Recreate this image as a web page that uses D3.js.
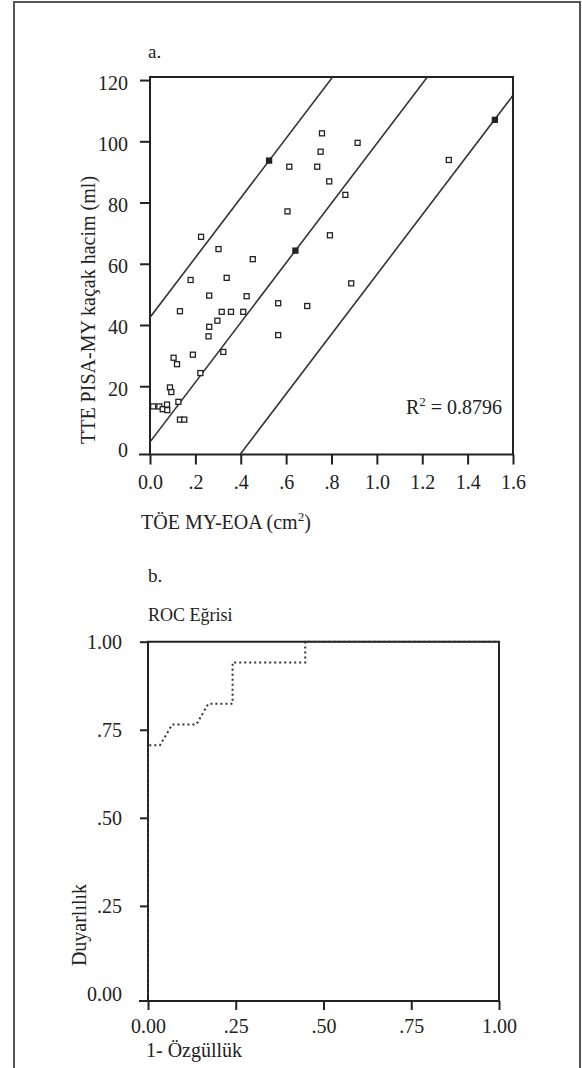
<!DOCTYPE html>
<html>
<head>
<meta charset="utf-8">
<script src="https://cdn.jsdelivr.net/npm/d3@7"></script>
<style>
body { margin: 0; background: #fff; }
</style>
</head>
<body>
<div id="chart"></div>
<script>
// panel a: EOA (cm2) vs PISA regurgitant volume (ml)
const eoa = [0.525, 0.614, 0.606, 0.225, 0.302, 0.641, 0.453, 0.179, 0.338, 0.261,
    0.426, 0.565, 0.693, 0.132, 0.316, 0.357, 0.411, 0.297, 0.261, 0.258,
    0.565, 0.323, 0.189, 0.104, 0.119, 0.222, 0.088, 0.094, 0.125, 0.014,
    0.041, 0.056, 0.075, 0.076, 0.132, 0.151, 0.758, 0.915, 0.752, 0.737,
    0.790, 0.861, 0.793, 0.887, 1.520, 1.317];
const volume = [93.7, 91.7, 77.1, 68.8, 64.8, 64.3, 61.5, 54.7, 55.4, 49.6,
    49.4, 47.1, 46.2, 44.5, 44.3, 44.3, 44.3, 41.4, 39.4, 36.3,
    36.7, 31.2, 30.3, 29.3, 27.2, 24.3, 19.6, 18.1, 14.9, 13.4,
    13.4, 12.5, 14.0, 12.2, 9.1, 9.1, 102.6, 99.5, 96.6, 91.7,
    86.9, 82.5, 69.3, 53.6, 107.0, 93.9];
const fitSlope = 97.5;
const fitIntercepts = [42.5, 1.8, -41];   // upper band, fit, lower band
const rSquared = '0.8796';
const eoaTicks = [0, 0.2, 0.4, 0.6, 0.8, 1.0, 1.2, 1.4, 1.6];
const volumeTicks = [0, 20, 40, 60, 80, 100, 120];

// panel b: ROC curve
const rocFpr = [0, 0, 0.034, 0.069, 0.138, 0.172, 0.241, 0.241, 0.448, 0.448, 1];
const rocTpr = [0, 0.706, 0.706, 0.765, 0.765, 0.824, 0.824, 0.941, 0.941, 1, 1];
const rocTicks = [0, 0.25, 0.5, 0.75, 1];

const width = 582, height = 1068;
const ink = '#222';
const serif = '"Liberation Serif", "Times New Roman", Times, serif';

const svg = d3.select('#chart').append('svg')
    .attr('width', width).attr('height', height)
    .attr('font-family', serif);

// outer frame of the figure
svg.append('rect')
    .attr('x', 14).attr('y', 2)
    .attr('width', 566).attr('height', 1090)
    .attr('fill', 'none').attr('stroke', '#555').attr('stroke-width', 2);

// ---------- panel a ----------
const x = d3.scaleLinear().domain([0, 1.6]).range([150, 513]);
const y = d3.scaleLinear().domain([-2.3, 121]).range([454.5, 77]);

svg.append('text').attr('x', 148).attr('y', 58).style('font-size', '19px').text('a.');

svg.append('clipPath').attr('id', 'clipA')
    .append('rect')
    .attr('x', x.range()[0]).attr('y', y.range()[1])
    .attr('width', x.range()[1] - x.range()[0])
    .attr('height', y.range()[0] - y.range()[1]);

const xAxis = svg.append('g')
    .attr('transform', `translate(0, ${y.range()[0]})`)
    .call(d3.axisBottom(x).tickValues(eoaTicks).tickSize(10).tickPadding(10)
        .tickFormat(d => d === 0 ? '0.0' : d3.format('.1f')(d).replace(/^0/, '')));

const yAxis = svg.append('g')
    .attr('transform', `translate(${x.range()[0]}, 0)`)
    .call(d3.axisLeft(y).tickValues(volumeTicks).tickSize(10).tickPadding(12));
yAxis.selectAll('.tick').filter(d => d === 0).select('line').remove();
yAxis.selectAll('text').attr('dy', '0.45em');

[xAxis, yAxis].forEach(g => {
    g.select('.domain').remove();
    g.selectAll('line').attr('stroke', ink).attr('stroke-width', 2);
    g.selectAll('text').style('font-size', '20px').attr('fill', ink);
});

// frame and axis lines
svg.append('path')
    .attr('d', `M${x.range()[0] - 11},${y.range()[0]}H${x.range()[1]}V${y.range()[1]}H${x.range()[0]}V${y.range()[0]}`)
    .attr('fill', 'none').attr('stroke', ink).attr('stroke-width', 2);

// fit line and bands
svg.append('g').attr('clip-path', 'url(#clipA)')
    .selectAll('line').data(fitIntercepts).enter().append('line')
    .attr('x1', x(-0.1)).attr('y1', d => y(d + fitSlope * -0.1))
    .attr('x2', x(1.7)).attr('y2', d => y(d + fitSlope * 1.7))
    .attr('stroke', '#333').attr('stroke-width', 1.6);

// points sitting right on a line look solid in the print
const onLine = (e, v) => fitIntercepts.some(b => Math.abs(v - (b + fitSlope * e)) < 0.5);
svg.append('g').selectAll('rect').data(eoa).enter().append('rect')
    .attr('x', (d, i) => x(d) - 2.5)
    .attr('y', (d, i) => y(volume[i]) - 2.5)
    .attr('width', 5).attr('height', 5)
    .attr('fill', (d, i) => onLine(d, volume[i]) ? ink : '#fff')
    .attr('stroke', ink).attr('stroke-width', 1.3);

const r2 = svg.append('text')
    .attr('x', 502).attr('y', 414)
    .attr('text-anchor', 'end').style('font-size', '20px');
r2.append('tspan').text('R');
r2.append('tspan').attr('dy', -8).style('font-size', '13px').text('2');
r2.append('tspan').attr('dy', 8).text(' = ' + rSquared);

const xTitle = svg.append('text').attr('x', 141).attr('y', 529).style('font-size', '20px');
xTitle.append('tspan').text('TÖE MY-EOA (cm');
xTitle.append('tspan').attr('dy', -8).style('font-size', '13px').text('2');
xTitle.append('tspan').attr('dy', 8).text(')');

svg.append('text')
    .attr('transform', `translate(95, 310) rotate(-90)`)
    .attr('text-anchor', 'middle').style('font-size', '20px')
    .text('TTE PISA-MY kaçak hacim (ml)');

// ---------- panel b ----------
const rx = d3.scaleLinear().domain([0, 1]).range([148, 499]);
const ry = d3.scaleLinear().domain([-0.02, 1]).range([1001, 641.7]);

svg.append('text').attr('x', 148).attr('y', 582).style('font-size', '19px').text('b.');
svg.append('text').attr('x', 148).attr('y', 621).style('font-size', '18px').text('ROC Eğrisi');

const fmtRoc = d => d === 0 ? '0.00' : d === 1 ? '1.00' : d3.format('.2f')(d).replace(/^0/, '');

const rxAxis = svg.append('g')
    .attr('transform', `translate(0, ${ry.range()[0]})`)
    .call(d3.axisBottom(rx).tickValues(rocTicks).tickSize(9).tickPadding(9).tickFormat(fmtRoc));

const ryAxis = svg.append('g')
    .attr('transform', `translate(${rx.range()[0]}, 0)`)
    .call(d3.axisLeft(ry).tickValues(rocTicks).tickSize(8).tickPadding(18).tickFormat(fmtRoc));
ryAxis.selectAll('.tick').filter(d => d === 0).select('line').remove();
ryAxis.selectAll('text').attr('dy', '0.35em');

[rxAxis, ryAxis].forEach(g => {
    g.select('.domain').remove();
    g.selectAll('line').attr('stroke', ink).attr('stroke-width', 2);
    g.selectAll('text').style('font-size', '20px').attr('fill', ink);
});

svg.append('path')
    .attr('d', `M${rx.range()[0] - 9},${ry.range()[0]}H${rx.range()[1]}V${ry(1)}H${rx.range()[0]}V${ry.range()[0]}`)
    .attr('fill', 'none').attr('stroke', ink).attr('stroke-width', 2);

const rocLine = d3.line()
    .x(d => rx(d[0]))
    .y(d => ry(d[1]));

svg.append('path')
    .datum(rocFpr.map((f, i) => [f, rocTpr[i]]))
    .attr('d', rocLine)
    .attr('fill', 'none').attr('stroke', '#333')
    .attr('stroke-width', 2).attr('stroke-dasharray', '2,3');

svg.append('text').attr('x', 146).attr('y', 1057).style('font-size', '20px').text('1- Özgüllük');

svg.append('text')
    .attr('transform', `translate(86, 925) rotate(-90)`)
    .attr('text-anchor', 'middle').style('font-size', '20px')
    .text('Duyarlılık');

// make sure every label uses the serif face
svg.selectAll('text').style('font-family', serif).style('fill', ink);
</script>
</body>
</html>
